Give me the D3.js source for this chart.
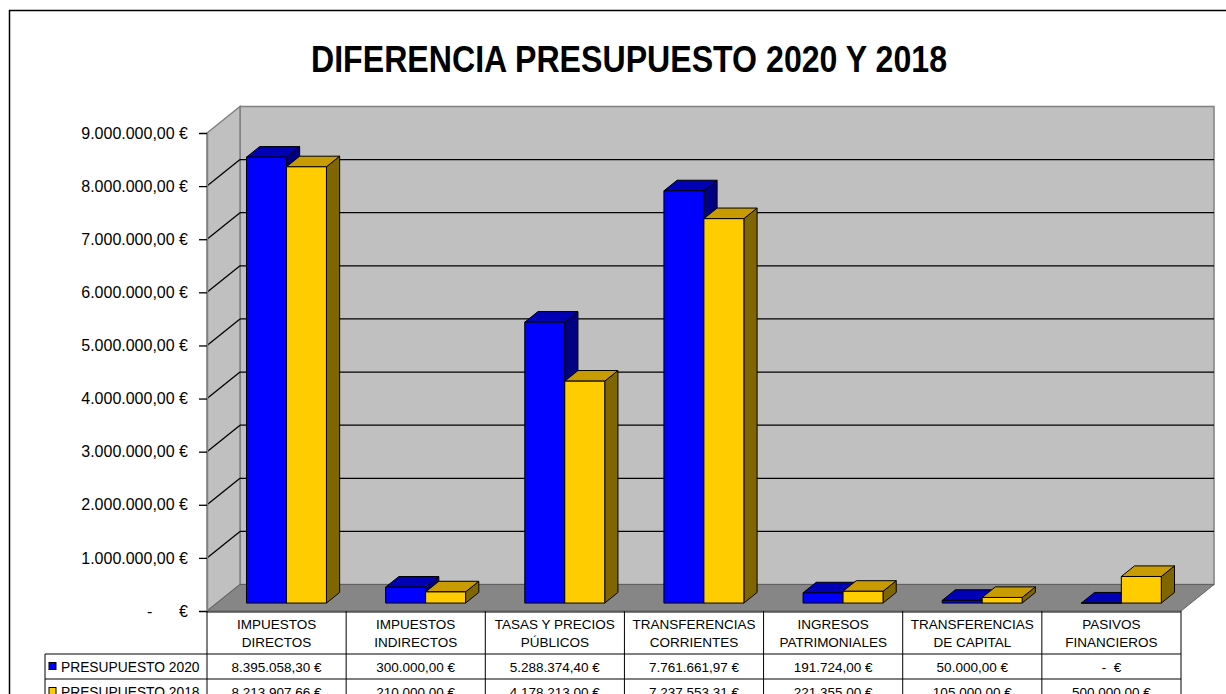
<!DOCTYPE html>
<html>
<head>
<meta charset="utf-8">
<script src="https://cdn.jsdelivr.net/npm/d3@7"></script>
<style>
  body { margin: 0; background: #fff; }
  text { font-family: Arial, 'Liberation Sans', sans-serif; fill: #000; }
</style>
</head>
<body>
<div id="chart"></div>
<script>
const categories = [
  'IMPUESTOS\nDIRECTOS',
  'IMPUESTOS\nINDIRECTOS',
  'TASAS Y PRECIOS\nPÚBLICOS',
  'TRANSFERENCIAS\nCORRIENTES',
  'INGRESOS\nPATRIMONIALES',
  'TRANSFERENCIAS\nDE CAPITAL',
  'PASIVOS\nFINANCIEROS'
];
const seriesNames = ['PRESUPUESTO 2020', 'PRESUPUESTO 2018'];
const values2020 = [8395058.30, 300000.00, 5288374.40, 7761661.97, 191724.00, 50000.00, 0];
const values2018 = [8213907.66, 210000.00, 4178213.00, 7237553.31, 221355.00, 105000.00, 500000.00];
const yTicks = [0, 1000000, 2000000, 3000000, 4000000, 5000000, 6000000, 7000000, 8000000, 9000000];

const seriesValues = [values2020, values2018];
const colors = [
  { front: '#0000ff', top: '#0000b4', side: '#000080' },
  { front: '#ffcc00', top: '#c89c00', side: '#806600' }
];

const width = 1226;
const height = 694;
const DX = 33, DY = -26.5;   // wall depth
const F0 = 0.3, F1 = 0.7;    // bar depth range

const locale = d3.formatLocale({ decimal: ',', thousands: '.', grouping: [3], currency: ['', ' €'] });
const money = locale.format('$,.2f');
const fmt = v => v === 0 ? '-  €' : money(v);

const svg = d3.select('#chart')
  .append('svg')
  .attr('width', width)
  .attr('height', height);

// chart frame
svg.append('rect')
  .attr('x', 9.5).attr('y', 10.5)
  .attr('width', 1240).attr('height', 700)
  .attr('fill', '#fff')
  .attr('stroke', '#000')
  .attr('stroke-width', 1.5);

svg.append('text')
  .attr('x', 629).attr('y', 72)
  .attr('text-anchor', 'middle')
  .attr('font-size', 36)
  .attr('font-weight', 'bold')
  .attr('textLength', 636)
  .attr('lengthAdjust', 'spacingAndGlyphs')
  .text('DIFERENCIA PRESUPUESTO 2020 Y 2018');

const x = d3.scaleBand().domain(categories).range([207, 1181]);
const xs = d3.scaleBand().domain(seriesNames).range([0, x.bandwidth()]).paddingOuter(0.74);
const y = d3.scaleLinear().domain([0, 9000000]).range([611, 133]);

const x0 = x.range()[0], x1 = x.range()[1];
const y0 = y(0), yTop = y(9000000);
const proj = (px, py, f) => [px + DX * f, py + DY * f];
const pts = arr => arr.map(p => p.join(',')).join(' ');

// walls
svg.append('polygon')
  .attr('points', pts([[x0 + DX, yTop + DY], [x1 + DX, yTop + DY], [x1 + DX, y0 + DY], [x0 + DX, y0 + DY]]))
  .attr('fill', '#c0c0c0').attr('stroke', '#808080').attr('stroke-width', 1.5);
svg.append('polygon')
  .attr('points', pts([[x0, yTop], [x0 + DX, yTop + DY], [x0 + DX, y0 + DY], [x0, y0]]))
  .attr('fill', '#c0c0c0').attr('stroke', '#808080').attr('stroke-width', 1.5);
svg.append('polygon')
  .attr('points', pts([[x0, y0], [x0 + DX, y0 + DY], [x1 + DX, y0 + DY], [x1, y0]]))
  .attr('fill', '#868686').attr('stroke', '#606060').attr('stroke-width', 1);

// gridlines
const grid = yTicks.filter(t => t > 0 && t < 9000000);
svg.append('g')
  .selectAll('line.back')
  .data(grid)
  .join('line')
  .attr('x1', x0 + DX).attr('x2', x1 + DX)
  .attr('y1', d => y(d) + DY).attr('y2', d => y(d) + DY)
  .attr('stroke', '#000').attr('stroke-width', 1.3);
svg.append('g')
  .selectAll('line.side')
  .data(grid)
  .join('line')
  .attr('x1', x0).attr('x2', x0 + DX)
  .attr('y1', d => y(d)).attr('y2', d => y(d) + DY)
  .attr('stroke', '#000').attr('stroke-width', 1.3);

// y axis
const yAxis = svg.append('g')
  .attr('transform', `translate(${x0},0)`)
  .call(d3.axisLeft(y).tickValues(yTicks).tickFormat(fmt).tickSize(8).tickPadding(11));
yAxis.select('.domain').attr('stroke', '#808080').attr('stroke-width', 1.5);
yAxis.selectAll('.tick line').attr('stroke', '#000').attr('stroke-width', 1.3);
yAxis.selectAll('.tick text')
  .attr('font-size', 16)
  .attr('font-family', 'Arial, "Liberation Sans", sans-serif')
  .attr('fill', '#000')
  .style('white-space', 'pre')
  .text(d => d === 0 ? '-      €' : money(d));

// bars
const bars = [];
categories.forEach((c, i) => {
  seriesNames.forEach((s, j) => {
    bars.push({ c, s, j, v: seriesValues[j][i] });
  });
});

const barG = svg.append('g')
  .selectAll('g')
  .data(bars)
  .join('g');

barG.each(function (d) {
  const g = d3.select(this);
  const bx0 = x(d.c) + xs(d.s);
  const bx1 = bx0 + xs.bandwidth();
  const by = y(d.v);
  const col = colors[d.j];

  g.append('polygon')
    .attr('points', pts([proj(bx1, by, F0), proj(bx1, y0, F0), proj(bx1, y0, F1), proj(bx1, by, F1)]))
    .attr('fill', col.side).attr('stroke', '#000').attr('stroke-width', 1);
  g.append('polygon')
    .attr('points', pts([proj(bx0, by, F0), proj(bx1, by, F0), proj(bx1, by, F1), proj(bx0, by, F1)]))
    .attr('fill', col.top).attr('stroke', '#000').attr('stroke-width', 1);
  g.append('polygon')
    .attr('points', pts([proj(bx0, by, F0), proj(bx1, by, F0), proj(bx1, y0, F0), proj(bx0, y0, F0)]))
    .attr('fill', col.front).attr('stroke', '#000').attr('stroke-width', 1);
});

// data table
const rowTop = 611, headBottom = 654, rowH = 25, tableLeft = 45;
const table = svg.append('g').attr('stroke', '#000').attr('stroke-width', 1);

table.selectAll('line.v')
  .data(categories.map(c => x(c)).concat([x1]))
  .join('line')
  .attr('x1', d => d).attr('x2', d => d)
  .attr('y1', rowTop).attr('y2', height + 10);

table.append('line')
  .attr('x1', x0).attr('x2', x1).attr('y1', rowTop + 1).attr('y2', rowTop + 1);

table.selectAll('line.h')
  .data([headBottom, headBottom + rowH])
  .join('line')
  .attr('x1', tableLeft).attr('x2', x1)
  .attr('y1', d => d).attr('y2', d => d);

table.append('line')
  .attr('x1', tableLeft).attr('x2', tableLeft)
  .attr('y1', headBottom).attr('y2', height + 10);

const header = svg.append('g')
  .selectAll('text')
  .data(categories)
  .join('text')
  .attr('text-anchor', 'middle')
  .attr('font-size', 13.5)
  .attr('x', d => x(d) + x.bandwidth() / 2)
  .attr('y', 629);

header.selectAll('tspan')
  .data(d => d.split('\n'))
  .join('tspan')
  .attr('x', function () { return d3.select(this.parentNode).attr('x'); })
  .attr('dy', (d, i) => i === 0 ? 0 : 18)
  .text(d => d);

seriesNames.forEach((s, j) => {
  const cy = headBottom + rowH * j + rowH / 2;
  svg.append('rect')
    .attr('x', 49).attr('y', cy - 4)
    .attr('width', 7).attr('height', 7)
    .attr('fill', colors[j].front)
    .attr('stroke', '#000').attr('stroke-width', 1);
  svg.append('text')
    .attr('x', 61).attr('y', cy + 5)
    .attr('font-size', 13.8)
    .text(s);
  svg.append('g')
    .selectAll('text')
    .data(seriesValues[j])
    .join('text')
    .attr('x', (d, i) => x(categories[i]) + x.bandwidth() / 2)
    .attr('y', cy + 5)
    .attr('text-anchor', 'middle')
    .attr('font-size', 13.5)
    .style('white-space', 'pre')
    .text(d => fmt(d));
});
</script>
</body>
</html>
